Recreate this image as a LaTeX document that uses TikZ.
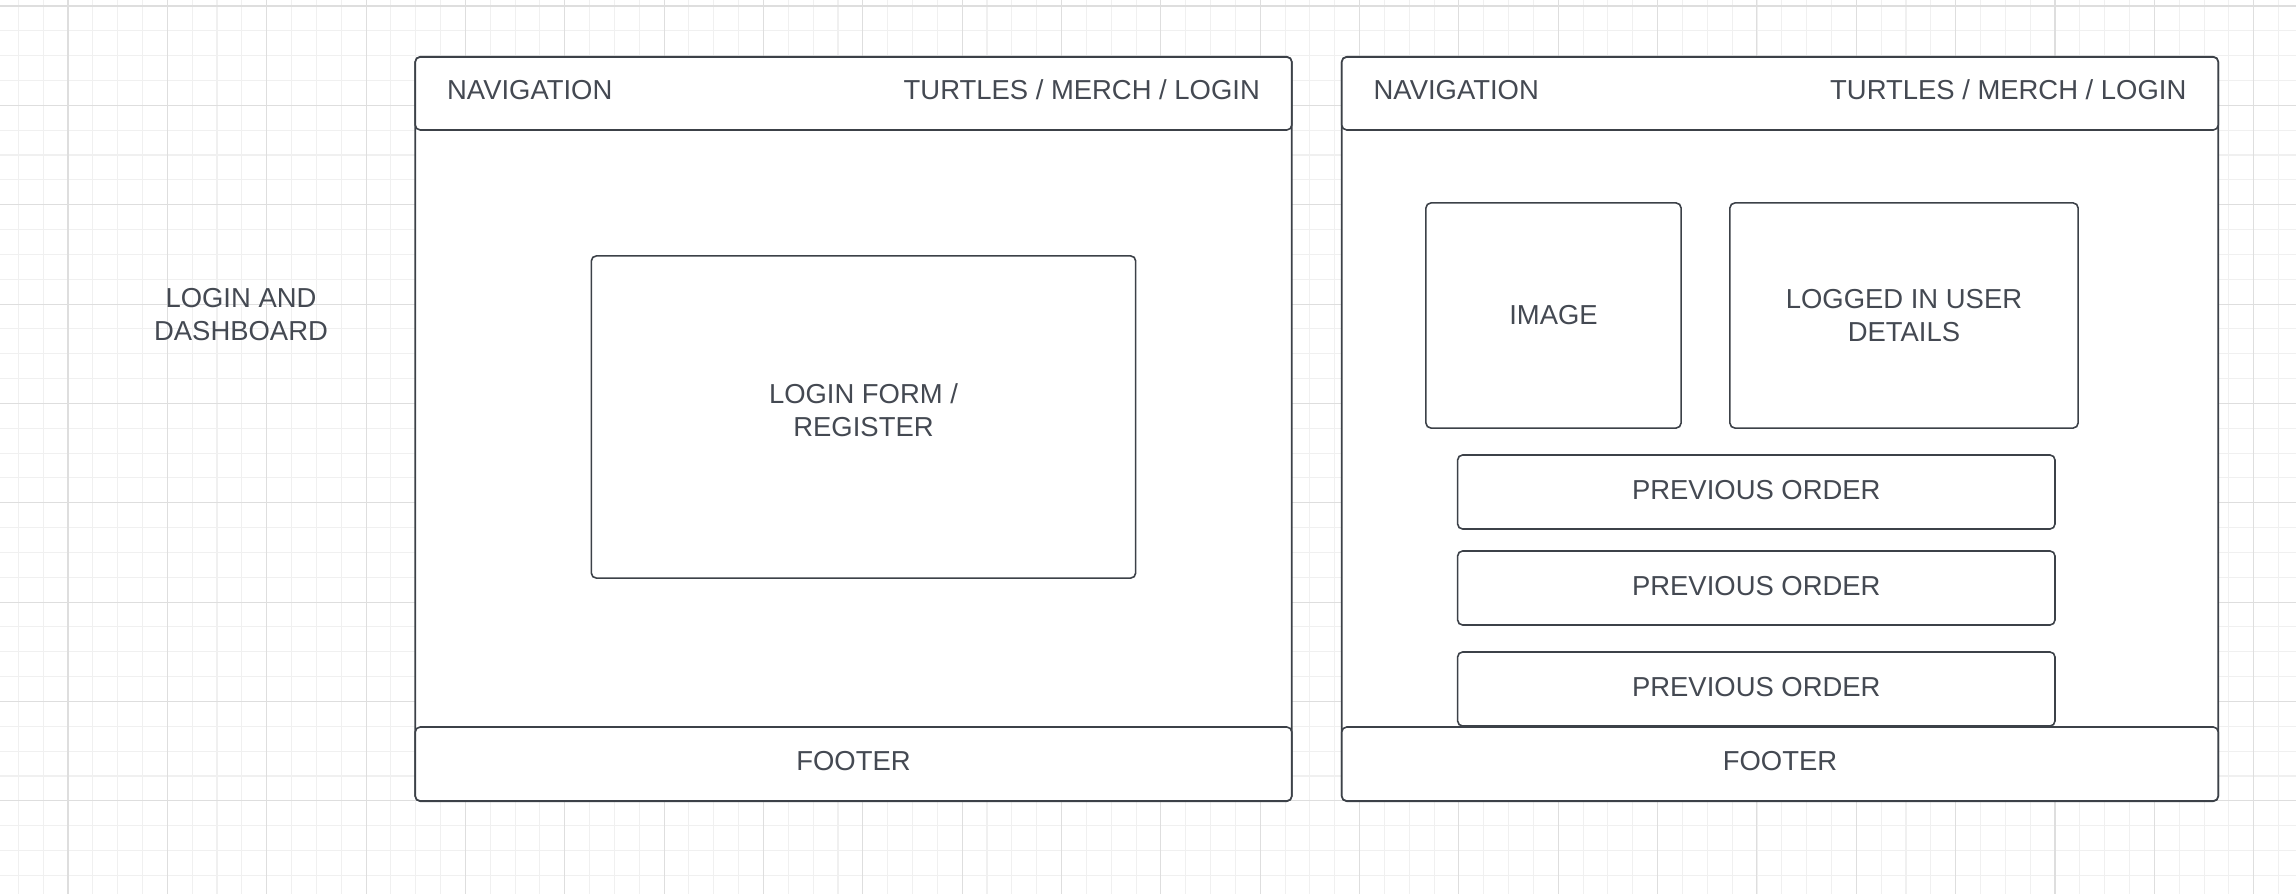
\documentclass[tikz,border=0pt]{standalone}
\usepackage{fontspec}
\setmainfont{Liberation Sans}
\usetikzlibrary{positioning}
\definecolor{inkgray}{RGB}{60,65,72}
\definecolor{textgray}{RGB}{68,73,82}
\definecolor{gridminor}{RGB}{240,240,240}
\definecolor{gridmajor}{RGB}{222,222,222}

\begin{document}
\begin{tikzpicture}[
    x=0.01cm, y=-0.01cm,
    panel/.style={rectangle, draw=inkgray, fill=white, line width=0.45pt, rounded corners=0.05cm, inner sep=0pt, align=center, text=textgray, font=\fontsize{7.8pt}{9.3pt}\selectfont},
    caption/.style={inner sep=0pt, align=center, text=textgray, font=\fontsize{7.8pt}{9.3pt}\selectfont},
    navtext/.style={caption, yshift=0.035cm},
    minorline/.style={gridminor, line width=0.3pt},
    majorline/.style={gridmajor, line width=0.3pt}
]
    % Canvas and grid
    \fill[white] (0,0) rectangle (2296,894);
    \useasboundingbox (0,0) rectangle (2296,894);
    \foreach \k in {0,...,91} \draw[minorline] ({18.32+\k*24.838},0) -- ({18.32+\k*24.838},894);
    \foreach \k in {0,...,35} \draw[minorline] (0,{6+\k*24.838}) -- (2296,{6+\k*24.838});
    \foreach \k in {0,...,22} \draw[majorline] ({68+\k*99.35},0) -- ({68+\k*99.35},894);
    \foreach \k in {0,...,8} \draw[majorline] (0,{6+\k*99.35}) -- (2296,{6+\k*99.35});

    % Title
    \node[caption] (pagetitle) at (241,314.5) {LOGIN AND\\DASHBOARD};

    % Login page
    \node[panel, minimum width=8.76cm, minimum height=7.44cm] (loginframe) at (853.5,429) {};
    \node[panel, minimum width=8.76cm, minimum height=0.73cm] (loginnav) at (853.5,93.5) {};
    \node[navtext, right=0.32cm of loginnav.west] (loginnavtitle) {NAVIGATION};
    \node[navtext, left=0.32cm of loginnav.east] (loginnavlinks) {TURTLES / MERCH / LOGIN};
    \node[panel, text depth=0.14cm, minimum width=5.44cm, minimum height=3.22cm] (loginform) at (863.5,417) {LOGIN FORM /\\REGISTER};
    \node[panel, text depth=0.06cm, minimum width=8.76cm, minimum height=0.74cm] (loginfooter) at (853.5,764) {FOOTER};

    % Dashboard page
    \node[panel, minimum width=8.76cm, minimum height=7.44cm] (dashframe) at (1780,429) {};
    \node[panel, minimum width=8.76cm, minimum height=0.73cm] (dashnav) at (1780,93.5) {};
    \node[navtext, right=0.32cm of dashnav.west] (dashnavtitle) {NAVIGATION};
    \node[navtext, left=0.32cm of dashnav.east] (dashnavlinks) {TURTLES / MERCH / LOGIN};
    \node[panel, minimum width=2.55cm, minimum height=2.25cm] (userimage) at (1553.5,315.5) {IMAGE};
    \node[panel, minimum width=3.48cm, minimum height=2.25cm] (userdetails) at (1904,315.5) {LOGGED IN USER\\DETAILS};
    \node[panel, text depth=0.04cm, minimum width=5.97cm, minimum height=0.74cm] (orderone) at (1756.3,492) {PREVIOUS ORDER};
    \node[panel, text depth=0.04cm, minimum width=5.97cm, minimum height=0.74cm] (ordertwo) at (1756.3,588) {PREVIOUS ORDER};
    \node[panel, text depth=0.04cm, minimum width=5.97cm, minimum height=0.74cm] (orderthree) at (1756.3,689) {PREVIOUS ORDER};
    \node[panel, text depth=0.06cm, minimum width=8.76cm, minimum height=0.74cm] (dashfooter) at (1780,764) {FOOTER};

\end{tikzpicture}
\end{document}
